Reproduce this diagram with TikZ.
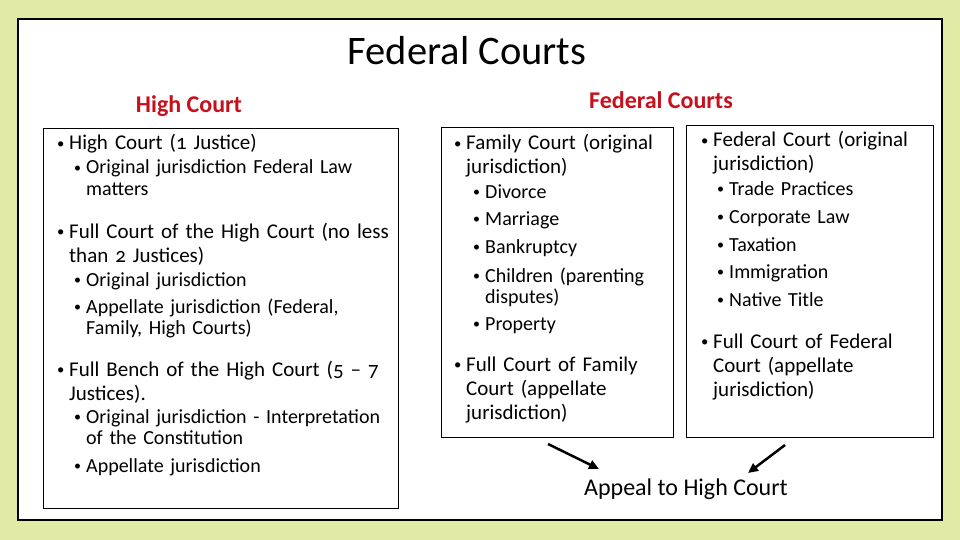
\documentclass[tikz,border=0pt]{standalone}
\usepackage{fontspec}
\setmainfont{Carlito}[Numbers=OldStyle]
\usetikzlibrary{arrows.meta}
\definecolor{bgpale}{RGB}{226,235,166}
\definecolor{hdred}{RGB}{200,16,28}

\begin{document}
\begin{tikzpicture}[
    x=1pt, y=-1pt,
    frame/.style={draw, line width=2.5pt, fill=white},
    panel/.style={draw, line width=0.8pt},
    heading/.style={anchor=base, inner sep=0pt, text=hdred, font=\fontsize{24}{28}\selectfont\bfseries},
    item/.style={anchor=base west, inner sep=0pt, text width=380pt, align=left,
        execute at begin node={\hangindent=#1\hangafter=1\makebox[#1][l]{\raisebox{0.08em}{\scalebox{0.7}{\textbullet}}}}},
    mainitem/.style={item=12pt, font=\fontsize{21}{24}\selectfont},
    subitem/.style={item=12pt, font=\fontsize{20}{21.5}\selectfont},
    arrow/.style={-{Triangle[length=10pt, width=9pt]}, line width=2.5pt}
]
    \useasboundingbox (0,0) rectangle (960,540);
    \fill[bgpale] (0,0) rectangle (960,540);
    \draw[frame] (18,19) rectangle (942,520);

    \node[anchor=base, inner sep=0pt, font=\fontsize{40.5}{46}\selectfont] (title) at (467,65) {Federal Courts};
    \node[heading] (hchead) at (189,113) {High Court};
    \node[heading] (fedhead) at (661,109) {Federal Courts};

    % high court panel
    \draw[panel] (43,128) rectangle (398,508);
    \node[mainitem] (hc) at (57,150) {High Court (1 Justice)};
    \node[subitem] (hcorig) at (74,174) {Original jurisdiction Federal Law\newline matters};
    \node[mainitem] (fc) at (57,238) {Full Court of the High Court (no less\newline than 2 Justices)};
    \node[subitem] (fcorig) at (74,286) {Original jurisdiction};
    \node[subitem] (fcapp) at (74,313) {Appellate jurisdiction (Federal,\newline Family, High Courts)};
    \node[mainitem] (fb) at (57,376) {Full Bench of the High Court (5 -- 7\newline Justices).};
    \node[subitem] (fborig) at (74,423) {Original jurisdiction - Interpretation\newline of the Constitution};
    \node[subitem] (fbapp) at (74,472) {Appellate jurisdiction};

    % family court panel
    \draw[panel] (441,127) rectangle (673,437);
    \node[mainitem] (fam) at (454,150) {Family Court (original\newline jurisdiction)};
    \node[subitem] (famdiv) at (473,198) {Divorce};
    \node[subitem] (fammar) at (473,225) {Marriage};
    \node[subitem] (fambank) at (473,253) {Bankruptcy};
    \node[subitem] (famchild) at (473,282) {Children (parenting\newline disputes)};
    \node[subitem] (famprop) at (473,330) {Property};
    \node[mainitem] (famfull) at (454,371) {Full Court of Family\newline Court (appellate\newline jurisdiction)};

    % federal court panel
    \draw[panel] (686,125) rectangle (933,437);
    \node[mainitem] (fed) at (701,147) {Federal Court (original\newline jurisdiction)};
    \node[subitem] (fedtrade) at (717,195) {Trade Practices};
    \node[subitem] (fedcorp) at (717,223) {Corporate Law};
    \node[subitem] (fedtax) at (717,251) {Taxation};
    \node[subitem] (fedimm) at (717,278) {Immigration};
    \node[subitem] (fednat) at (717,306) {Native Title};
    \node[mainitem] (fedfull) at (701,348) {Full Court of Federal\newline Court (appellate\newline jurisdiction)};

    \node[anchor=base, inner sep=0pt, font=\fontsize{24}{28}\selectfont] (appeal) at (686,495) {Appeal to High Court};

    \coordinate (famout) at (548,444);
    \coordinate (famin) at (599,469);
    \coordinate (fedout) at (785,445);
    \coordinate (fedin) at (748,473);
    \draw[arrow] (famout) -- (famin);
    \draw[arrow] (fedout) -- (fedin);
\end{tikzpicture}
\end{document}
